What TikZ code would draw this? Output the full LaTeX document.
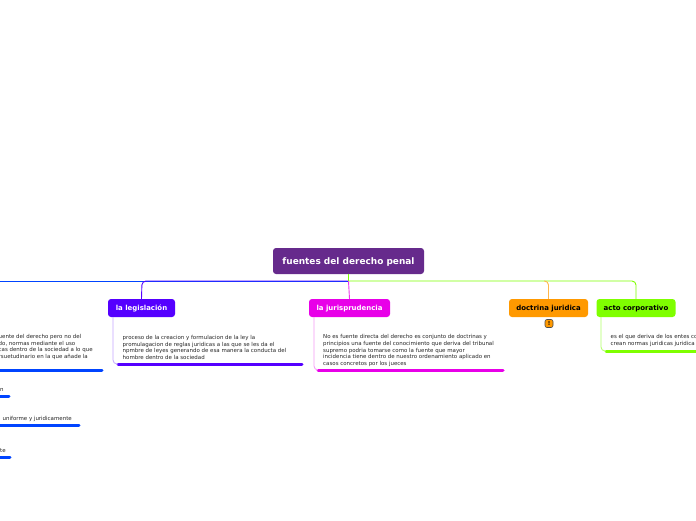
\documentclass[tikz,border=0pt]{standalone}
\usepackage{fontspec}
\setmainfont{DejaVu Sans}
\definecolor{ctitle}{HTML}{662A8C}
\definecolor{cblue}{HTML}{0044FF}
\definecolor{cpurple}{HTML}{5500FF}
\definecolor{cmag}{HTML}{E800E8}
\definecolor{corange}{HTML}{FF9900}
\definecolor{clime}{HTML}{7FFF00}
\tikzset{
 x=1pt,y=-1pt,
 box/.style={rounded corners=3pt,minimum height=18pt,inner sep=0pt,text height=5pt,text depth=0pt,font=\fontsize{6.95}{8}\selectfont\bfseries},
 body/.style={anchor=west,inner sep=0pt,align=left,text=black!85,font=\fontsize{5.47}{6.55}\selectfont},
 bar/.style={line width=3pt,line cap=round},
 link/.style={line width=0.9pt,rounded corners=4pt},
 bracket/.style={line width=0.8pt,rounded corners=4pt},
}
\begin{document}
\begin{tikzpicture}
\useasboundingbox (0,0) rectangle (696,520);
\fill[white] (0,0) rectangle (696,520);
\node[box,fill=ctitle,text=white,minimum width=151pt,minimum height=26pt,text height=6.5pt,font=\fontsize{8.95}{10}\selectfont\bfseries] (title) at (348.5,261) {fuentes del derecho penal};
\node[box,fill=cpurple,text=white,minimum width=67pt] (leg) at (141.5,308) {la legislación};
\node[box,fill=cmag,text=white,minimum width=81pt] (jur) at (349.5,308) {la jurisprudencia};
\node[box,fill=corange,text=black,minimum width=79pt] (doc) at (548.5,308) {doctrina juridica};
\node[box,fill=clime,text=black,minimum width=79pt] (act) at (636,308) {acto corporativo};
\node[draw=black!70,line width=0.6pt,fill=corange,rounded corners=2pt,minimum width=8pt,minimum height=8pt,inner sep=0pt,font=\fontsize{5.5}{6}\selectfont\bfseries] (warn) at (549,323.5) {!};
% trunk
\coordinate (trunk) at (348.5,281);
\coordinate (leftend) at (0,281);
\draw[line width=0.9pt,cblue] (trunk) -- (leftend);
\draw[link,cpurple] (trunk) -- (142,281) -- (leg.north);
\draw[link,clime] (trunk) -- (636,281) -- (act.north);
\draw[link,corange!70] (544,281) -- (548.5,281) -- (doc.north);
\draw[line width=0.9pt,cmag!80] (trunk) -- (jur.north);
\draw[line width=0.9pt,clime] (title.south) -- (trunk);
% legislation
\node[body] (legt) at (122.5,347.5) {proceso de la creacion y formulacion de la ley la\\promulagacion de reglas juridicas a las que se les da el\\npmbre de leyes generando de esa manera la conducta del\\hombre dentro de la sociedad};
\coordinate (legb) at (118,364);
\draw[bar,cpurple] (legb) -- (302,364);
\draw[bracket,cpurple!35] (113,317) -- (113,364) -- (legb);
% jurisprudence
\node[body] (jurt) at (323,350.5) {No es fuente directa del derecho es conjunto de doctrinas y\\principios una fuente del conocimiento que deriva del tribunal\\supremo podria tomarse como la fuente que mayor\\incidencia tiene dentro de nuestro ordenamiento aplicado en\\casos concretos por los jueces};
\coordinate (jurb) at (318,370);
\draw[bar,cmag] (jurb) -- (503,370);
\draw[bracket,cmag!40] (314,317) -- (314,370) -- (jurb);
% corporate act
\node[body] (actt) at (610.5,340.5) {es el que deriva de los entes co\\crean normas juridicas juridica};
\coordinate (actb) at (606,351);
\draw[bar,clime] (actb) -- (700,351);
\draw[bracket,clime!60] (601,317) -- (601,351) -- (actb);
% left branch, cut by the page edge
\node[body] (lt) at (-1.5,347) {uente del derecho pero no del\\do, normas mediante el uso\\cas dentro de la sociedad a lo que\\rsuetudinario en la que añade la};
\coordinate (l1) at (-3,370.5);
\draw[bar,cblue] (l1) -- (102,370.5);
\node[body] (l2t) at (0,390) {n};
\coordinate (l2) at (-3,396.5);
\draw[bar,cblue] (l2) -- (9,396.5);
\node[body] (l3t) at (2.5,418.7) {uniforme y juridicamente};
\coordinate (l3) at (-3,425);
\draw[bar,cblue] (l3) -- (79,425);
\node[body] (l4t) at (0,450.7) {te};
\coordinate (l4) at (-3,457);
\draw[bar,cblue] (l4) -- (10,457);
\end{tikzpicture}
\end{document}
